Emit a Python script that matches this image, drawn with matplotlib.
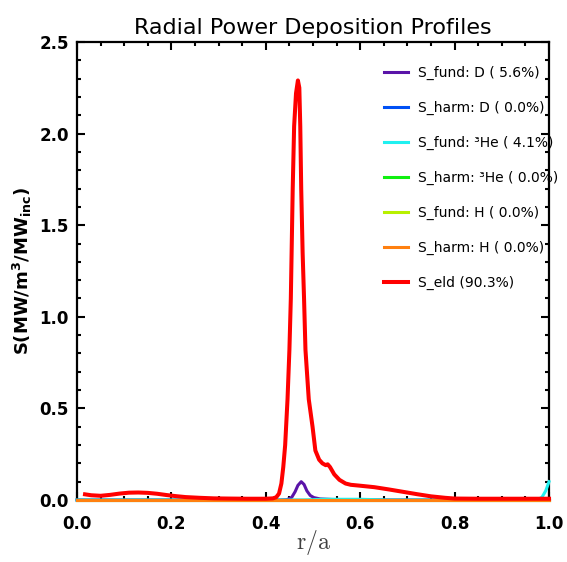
import matplotlib
matplotlib.use("Agg")
import matplotlib.pyplot as plt
import matplotlib.ticker as mticker

# radial coordinate and deposition profiles
r_eld = [0.017, 0.03, 0.05, 0.07, 0.09, 0.11, 0.13, 0.15, 0.17, 0.19, 0.21, 0.23,
         0.26, 0.29, 0.32, 0.36, 0.40, 0.415, 0.422, 0.428, 0.433, 0.437, 0.441,
         0.446, 0.450, 0.453, 0.455, 0.457, 0.460, 0.464, 0.468, 0.471, 0.473,
         0.475, 0.478, 0.481, 0.484, 0.491, 0.499, 0.505, 0.513, 0.520, 0.527,
         0.531, 0.536, 0.545, 0.556, 0.569, 0.58, 0.60, 0.63, 0.66, 0.69, 0.72,
         0.75, 0.78, 0.80, 0.85, 0.90, 0.95, 1.00]
s_eld = [0.031, 0.026, 0.023, 0.028, 0.035, 0.040, 0.041, 0.039, 0.034, 0.027,
         0.021, 0.016, 0.012, 0.009, 0.008, 0.007, 0.007, 0.009, 0.015, 0.035,
         0.09, 0.18, 0.30, 0.55, 0.82, 1.10, 1.40, 1.70, 2.04, 2.22, 2.29, 2.25,
         2.04, 1.70, 1.35, 1.10, 0.82, 0.55, 0.40, 0.27, 0.22, 0.20, 0.19, 0.195,
         0.18, 0.14, 0.11, 0.09, 0.083, 0.078, 0.070, 0.058, 0.045, 0.032, 0.020,
         0.012, 0.008, 0.007, 0.007, 0.007, 0.007]

r_fund_d = [0.0, 0.43, 0.445, 0.455, 0.462, 0.468, 0.475, 0.481, 0.487, 0.494,
            0.502, 0.515, 0.54, 0.58, 0.65, 1.0]
s_fund_d = [0.0, 0.0, 0.002, 0.015, 0.045, 0.08, 0.10, 0.085, 0.05, 0.025,
            0.013, 0.006, 0.003, 0.001, 0.0, 0.0]

r_fund_he3 = [0.0, 0.48, 0.52, 0.60, 0.66, 0.975, 0.985, 0.993, 1.0]
s_fund_he3 = [0.0, 0.0, 0.004, 0.004, 0.0, 0.0, 0.015, 0.05, 0.10]

r_zero = [0.0, 1.0]
s_zero = [0.0, 0.0]

labels = ["S_fund: D ( 5.6%)", "S_harm: D ( 0.0%)", "S_fund: \u00b3He ( 4.1%)",
          "S_harm: \u00b3He ( 0.0%)", "S_fund: H ( 0.0%)", "S_harm: H ( 0.0%)",
          "S_eld (90.3%)"]
colors = ["#5a14a8", "#0050f5", "#20f0f0", "#10f010", "#b8f000", "#ff8010", "#ff0000"]

series = [(r_fund_d, s_fund_d), (r_zero, s_zero), (r_fund_he3, s_fund_he3),
          (r_zero, s_zero), (r_zero, s_zero), (r_zero, s_zero), (r_eld, s_eld)]

fig = plt.figure(figsize=(5.67, 5.62), dpi=100)
ax = fig.add_axes([0.1358, 0.1103, 0.8325, 0.815])

for (x, y), c, lab in zip(series, colors, labels):
    lw = 2.9 if c == "#ff0000" else 2.2
    ax.plot(x, y, color=c, lw=lw, label=lab, clip_on=False, zorder=3,
            solid_joinstyle="round")

ax.set_xlim(0, 1)
ax.set_ylim(0, 2.5)
ax.xaxis.set_major_locator(mticker.MultipleLocator(0.2))
ax.xaxis.set_minor_locator(mticker.MultipleLocator(0.05))
ax.yaxis.set_major_locator(mticker.MultipleLocator(0.5))
ax.yaxis.set_minor_locator(mticker.MultipleLocator(0.1))
ax.xaxis.set_major_formatter(mticker.FormatStrFormatter("%.1f"))
ax.yaxis.set_major_formatter(mticker.FormatStrFormatter("%.1f"))

ax.tick_params(which="both", direction="in", top=True, right=True, width=1.5)
ax.tick_params(which="major", length=6)
ax.tick_params(which="minor", length=3)
ax.tick_params(axis="x", pad=11)
ax.tick_params(axis="y", pad=6)
for lab in ax.get_xticklabels() + ax.get_yticklabels():
    lab.set_fontweight("bold")
    lab.set_fontsize(12)
for sp in ax.spines.values():
    sp.set_linewidth(1.6)

ax.set_title("Radial Power Deposition Profiles", fontsize=16, pad=6)
ax.set_ylabel(r"S(MW/m$^\mathbf{3}$/MW$_\mathbf{inc}$)", fontsize=13,
              fontweight="bold", math_fontfamily="dejavusans", labelpad=4)
ax.set_xlabel(r"$\mathrm{r/a}$", fontsize=17, color="#404040",
              math_fontfamily="cm", labelpad=-4)

ax.legend(loc="upper left", bbox_to_anchor=(0.651, 0.948), frameon=False,
          fontsize=10, borderpad=0, borderaxespad=0, handlelength=1.7,
          handletextpad=0.7, labelspacing=1.5)

plt.savefig("out.png", dpi=100)
